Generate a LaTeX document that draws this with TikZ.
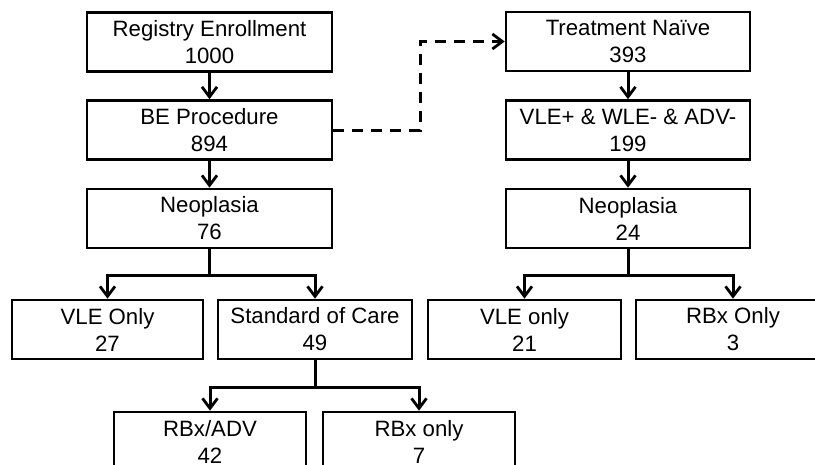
\documentclass[tikz,border=0pt]{standalone}
\usepackage{fontspec}
\setmainfont{Liberation Sans}
\usetikzlibrary{arrows.meta}

\begin{document}
\begin{tikzpicture}[x=1pt,y=-1pt,
    box/.style={draw,line width=2.6pt,inner sep=0pt,align=center,
        minimum height=59pt,font=\fontsize{22.2}{27}\selectfont},
    arr/.style={line width=3pt,-{Straight Barb[length=10pt,width=15pt,line width=2.8pt]}},
    link/.style={line width=3pt}]
    \useasboundingbox (0,0) rectangle (815,464);
    \clip (0,0) rectangle (815,464);
    % left column
    \node[box,minimum width=245pt] (reg) at (209.5,42) {Registry Enrollment\\1000};
    \node[box,minimum width=245pt] (be) at (209.5,130) {BE Procedure\\894};
    \node[box,minimum width=245pt] (neoL) at (209.5,218.5) {Neoplasia\\76};
    % right column
    \node[box,minimum width=244pt] (naive) at (628,41.5) {Treatment Na\"ive\\393};
    \node[box,minimum width=244pt] (vle) at (628,130) {VLE+ \& WLE- \& ADV-\\199};
    \node[box,minimum width=244pt] (neoR) at (628,218.5) {Neoplasia\\24};
    % third row
    \node[box,minimum width=191pt] (vleL) at (107.5,329.5) {VLE Only\\27};
    \node[box,minimum width=194pt] (soc) at (315,329.5) {Standard of Care\\49};
    \node[box,minimum width=193pt] (vleR) at (524.5,329.5) {VLE only\\21};
    \node[box,minimum width=194pt] (rbxR) at (733,329.5) {RBx Only\\3};
    % bottom row
    \node[box,minimum width=192pt] (adv) at (210,441.5) {RBx/ADV\\42};
    \node[box,minimum width=192pt] (rbxL) at (419,441.5) {RBx only\\7};

    \draw[arr] (reg) -- (be);
    \draw[arr] (be) -- (neoL);
    \draw[arr] (naive) -- (vle);
    \draw[arr] (vle) -- (neoR);
    \draw[arr,dash pattern=on 11pt off 8pt] (be.east) -- ++(87,0) |- (naive.west);
    \draw[link] (neoL.south) -- ++(0,26) coordinate (forkL);
    \draw[arr] (forkL) -| (vleL);
    \draw[arr] (forkL) -| (soc);
    \draw[link] (neoR.south) -- ++(0,26) coordinate (forkR);
    \draw[arr] (forkR) -| (vleR);
    \draw[arr] (forkR) -| (rbxR);
    \draw[link] (soc.south) -- ++(0,27) coordinate (forkS);
    \draw[arr] (forkS) -| (adv);
    \draw[arr] (forkS) -| (rbxL);
\end{tikzpicture}
\end{document}
